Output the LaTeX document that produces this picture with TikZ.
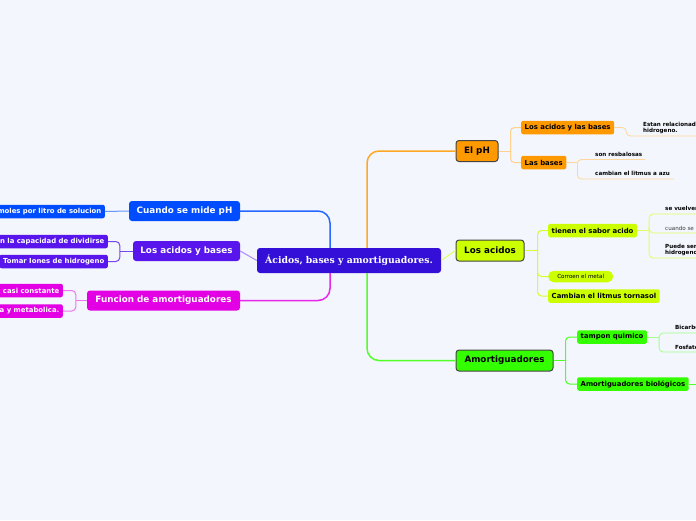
\documentclass[tikz,border=0pt]{standalone}
\usepackage{fontspec}
\setmainfont{DejaVu Sans}
\newfontfamily\titlefont{DejaVu Serif}
\definecolor{page_bg}{RGB}{243,246,253}
\definecolor{deep_violet}{RGB}{51,15,216}
\definecolor{royal_blue}{RGB}{0,77,255}
\definecolor{purple_blue}{RGB}{88,22,236}
\definecolor{hot_magenta}{RGB}{228,0,228}
\definecolor{ph_orange}{RGB}{255,153,0}
\definecolor{lime_green}{RGB}{204,255,0}
\definecolor{bright_green}{RGB}{51,255,0}
\definecolor{edge_gray}{RGB}{68,68,68}
\definecolor{leaf_gray}{RGB}{60,60,60}

\tikzset{
	topic/.style={rectangle,rounded corners=3pt,draw=edge_gray,line width=1pt,text=black,
		font=\bfseries\fontsize{8.8}{10}\selectfont,minimum height=21pt,inner xsep=5pt},
	lefttopic/.style={rectangle,rounded corners=3pt,text=white,
		font=\bfseries\fontsize{8.8}{10}\selectfont,minimum height=20pt,inner xsep=5pt},
	subtopic/.style={rectangle,rounded corners=2pt,font=\bfseries\fontsize{6.9}{8}\selectfont,
		minimum height=13.5pt,inner xsep=3.5pt,inner ysep=1pt},
	leaf/.style={inner sep=0pt,anchor=west,align=left,text=black,
		font=\bfseries\fontsize{5.6}{6.4}\selectfont},
}

\begin{document}
\begin{tikzpicture}[x=1pt,y=-1pt]
	\path[use as bounding box,fill=page_bg] (0,0) rectangle (696,520);

	% central topic
	\node[rectangle,rounded corners=3pt,fill=deep_violet,text=white,minimum width=184pt,minimum height=25pt,
		font=\titlefont\bfseries\fontsize{9.3}{11}\selectfont] (central) at (349,260.5) {Ácidos, bases y amortiguadores.};

	% right main topics
	\node[topic,fill=ph_orange,minimum width=42pt] (ph) at (477,151) {El pH};
	\node[topic,fill=lime_green,minimum width=68pt] (acidos) at (490,250.5) {Los acidos};
	\node[topic,fill=bright_green,minimum width=97pt] (amort) at (504.5,360.5) {Amortiguadores};

	% left main topics
	\node[lefttopic,fill=royal_blue,minimum width=111pt] (mide) at (184.5,211) {Cuando se mide pH};
	\node[lefttopic,fill=purple_blue,minimum width=107pt] (acbases) at (186.5,251) {Los acidos y bases};
	\node[lefttopic,fill=hot_magenta,minimum width=153pt] (funcion) at (163.5,300.5) {Funcion de amortiguadores};

	% left subtopics
	\node[subtopic,fill=royal_blue,text=white,anchor=east] (moles) at (105,211.5) {moles por litro de solucion};
	\node[subtopic,fill=purple_blue,text=white,anchor=east] (dividir) at (108,241.5) {n la capacidad de dividirse};
	\node[subtopic,fill=purple_blue,text=white,anchor=east] (tomar) at (108,261.5) {Tomar Iones de hidrogeno};
	\node[subtopic,fill=hot_magenta,text=white,anchor=east] (constante) at (63,290.5) {l casi constante};
	\node[subtopic,fill=hot_magenta,text=white,anchor=east] (metabolica) at (63,311) {a y metabolica.};

	% right subtopics
	\node[subtopic,fill=ph_orange,anchor=west] (acidos_bases) at (521,127.5) {Los acidos y las bases};
	\node[subtopic,fill=ph_orange,anchor=west] (las_bases) at (521,162.5) {Las bases};
	\node[subtopic,fill=lime_green,anchor=west] (sabor) at (548,230.5) {tienen el sabor acido};
	\node[subtopic,fill=lime_green,anchor=west,rounded corners=5.5pt,minimum width=65pt,minimum height=11.5pt,
		font=\fontsize{5.6}{6.4}\selectfont] (corroen) at (548,276.5) {Corroen el metal};
	\node[subtopic,fill=lime_green,anchor=west] (litmus) at (548,296) {Cambian el litmus tornasol};
	\node[subtopic,fill=bright_green,anchor=west] (tampon) at (577,337) {tampon quimico};
	\node[subtopic,fill=bright_green,anchor=west] (biolog) at (577,384) {Amortiguadores biológicos};

	% leaves
	\node[leaf] (estan) at (643,128) {Estan relacionada\\hidrogeno.};
	\node[leaf] (resbal) at (595,154) {son resbalosas};
	\node[leaf] (azu) at (595,173) {cambian el litmus a azu};
	\node[leaf] (vuelven) at (665,208.5) {se vuelven};
	\node[leaf,text=leaf_gray,font=\fontsize{5.6}{6.4}\selectfont] (cuando) at (665,228) {cuando se m};
	\node[leaf] (puede) at (665,250) {Puede ser\\hidrogeno};
	\node[leaf] (bicarbo) at (675,327.5) {Bicarbo};
	\node[leaf] (fosfato) at (675,347.5) {Fosfato};

	% underline ends
	\coordinate (estan_end) at (700,136);
	\coordinate (resbal_end) at (645,159.5);
	\coordinate (azu_end) at (674,179);
	\coordinate (vuelven_end) at (700,214);
	\coordinate (cuando_end) at (700,233);
	\coordinate (puede_end) at (700,258);
	\coordinate (bicarbo_end) at (700,333);
	\coordinate (fosfato_end) at (700,352);
	\coordinate (biolog_end) at (700,384);

	% connectors from the central topic
	\draw[ph_orange!85,line width=1.5pt,rounded corners=12pt] ([xshift=18pt]central.north) |- (ph.west);
	\draw[bright_green!85,line width=1.5pt,rounded corners=12pt] ([xshift=18pt]central.south) |- (amort.west);
	\draw[lime_green!60,line width=1pt] (central.east) -- (acidos.west);
	\draw[royal_blue!85,line width=1.5pt,rounded corners=12pt] ([xshift=-19pt]central.north) |- (mide.east);
	\draw[hot_magenta!85,line width=1.5pt,rounded corners=12pt] ([xshift=-19pt]central.south) |- (funcion.east);
	\draw[purple_blue!50,line width=1pt] (central.west) -- (acbases.east);

	% brackets
	\draw[ph_orange!45,line width=1pt] (ph.east) -- ++(12,0) coordinate (ph_j);
	\foreach \c in {acidos_bases,las_bases}
		\draw[ph_orange!45,line width=1pt,rounded corners=4pt] (ph_j) |- (\c.west);
	\draw[ph_orange!40,line width=0.8pt,rounded corners=4pt] (acidos_bases.east) -- ++(12,0) |- (estan_end);
	\draw[ph_orange!40,line width=0.8pt] (las_bases.east) -- ++(11,0) coordinate (lb_j);
	\foreach \e in {resbal_end,azu_end}
		\draw[ph_orange!40,line width=0.8pt,rounded corners=4pt] (lb_j) |- (\e);

	\draw[lime_green!80,line width=1pt] (acidos.east) -- ++(13,0) coordinate (ac_j);
	\foreach \c in {sabor,corroen,litmus}
		\draw[lime_green!80,line width=1pt,rounded corners=4pt] (ac_j) |- (\c.west);
	\draw[lime_green!60,line width=0.8pt] (sabor.east) -- ++(12,0) coordinate (sb_j);
	\foreach \e in {vuelven_end,cuando_end,puede_end}
		\draw[lime_green!60,line width=0.8pt,rounded corners=4pt] (sb_j) |- (\e);

	\draw[bright_green!85,line width=1pt] (amort.east) -- ++(12,0) coordinate (am_j);
	\foreach \c in {tampon,biolog}
		\draw[bright_green!85,line width=1pt,rounded corners=4pt] (am_j) |- (\c.west);
	\draw[bright_green!45,line width=0.8pt] (tampon.east) -- ++(12,0) coordinate (tp_j);
	\foreach \e in {bicarbo_end,fosfato_end}
		\draw[bright_green!45,line width=0.8pt,rounded corners=4pt] (tp_j) |- (\e);
	\draw[bright_green!85,line width=1pt] (biolog.east) -- (biolog_end);

	\draw[royal_blue!60,line width=1pt] (mide.west) -- (moles.east);
	\draw[purple_blue!80,line width=1pt] (acbases.west) -- ++(-13,0) coordinate (ab_j);
	\foreach \c in {dividir,tomar}
		\draw[purple_blue!80,line width=1pt,rounded corners=4pt] (ab_j) |- (\c.east);
	\draw[hot_magenta!55,line width=1pt] (funcion.west) -- ++(-11,0) coordinate (fn_j);
	\foreach \c in {constante,metabolica}
		\draw[hot_magenta!55,line width=1pt,rounded corners=4pt] (fn_j) |- (\c.east);
\end{tikzpicture}
\end{document}
